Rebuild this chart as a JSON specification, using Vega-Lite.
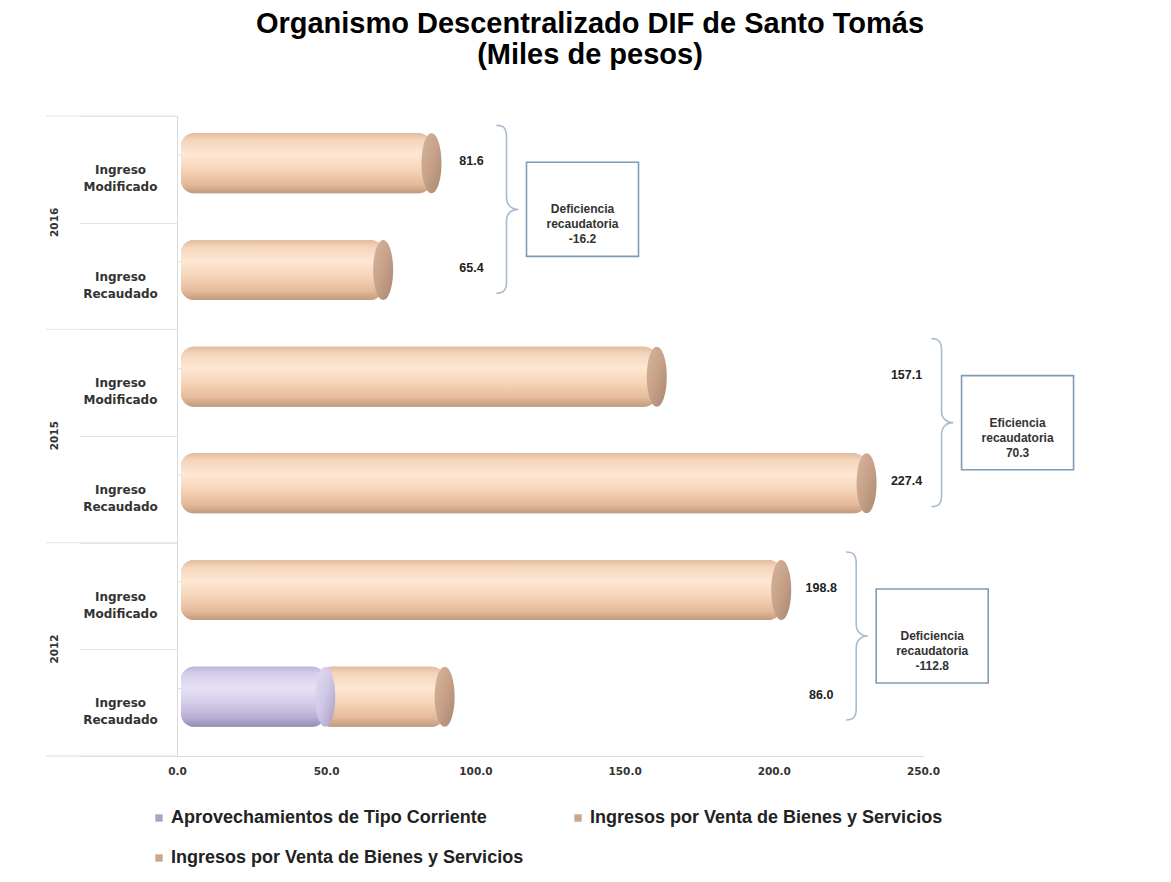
{
  "$schema": "https://vega.github.io/schema/vega-lite/v6.json",
  "width": 746,
  "height": 640,
  "padding": {"left": 45, "top": 10, "right": 5, "bottom": 5},
  "background": "white",
  "title": {
    "text": ["Organismo Descentralizado DIF de Santo Tomás", "(Miles de pesos)"],
    "font": "Liberation Sans",
    "fontSize": 29,
    "fontWeight": "bold",
    "color": "#000000",
    "lineHeight": 31,
    "anchor": "middle",
    "dx": 40,
    "offset": 40
  },
  "config": {
    "view": {"stroke": null},
    "legend": {"layout": {"bottom": {"anchor": "start"}}}
  },
  "datasets": {
    "barras": [
      {"year": "2016", "tipo": "Ingreso Modificado", "fila": "2016|Ingreso Modificado", "serie": "Ingresos por Venta de Bienes y Servicios", "valor": 81.6},
      {"year": "2016", "tipo": "Ingreso Recaudado", "fila": "2016|Ingreso Recaudado", "serie": "Ingresos por Venta de Bienes y Servicios ", "valor": 65.4},
      {"year": "2015", "tipo": "Ingreso Modificado", "fila": "2015|Ingreso Modificado", "serie": "Ingresos por Venta de Bienes y Servicios", "valor": 157.1},
      {"year": "2015", "tipo": "Ingreso Recaudado", "fila": "2015|Ingreso Recaudado", "serie": "Ingresos por Venta de Bienes y Servicios ", "valor": 227.4},
      {"year": "2012", "tipo": "Ingreso Modificado", "fila": "2012|Ingreso Modificado", "serie": "Ingresos por Venta de Bienes y Servicios", "valor": 198.8},
      {"year": "2012", "tipo": "Ingreso Recaudado", "fila": "2012|Ingreso Recaudado", "serie": "Aprovechamientos de Tipo Corriente", "valor": 46.0},
      {"year": "2012", "tipo": "Ingreso Recaudado", "fila": "2012|Ingreso Recaudado", "serie": "Ingresos por Venta de Bienes y Servicios ", "valor": 40.0}
    ],
    "notas": [
      {"year": "2016", "texto": ["Deficiencia", "recaudatoria", "-16.2"]},
      {"year": "2015", "texto": ["Eficiencia", "recaudatoria", "70.3"]},
      {"year": "2012", "texto": ["Deficiencia", "recaudatoria", "-112.8"]}
    ]
  },
  "data": {"name": "barras"},
  "transform": [
    {"stack": "valor", "groupby": ["fila"], "sort": [{"field": "serie", "order": "ascending"}], "as": ["x0", "x1"]}
  ],
  "encoding": {
    "y": {
      "field": "fila",
      "type": "nominal",
      "sort": ["2016|Ingreso Modificado", "2016|Ingreso Recaudado", "2015|Ingreso Modificado", "2015|Ingreso Recaudado", "2012|Ingreso Modificado", "2012|Ingreso Recaudado"],
      "scale": {"padding": 0},
      "axis": {
        "title": null,
        "labelExpr": "isString(datum.value) ? split(split(datum.value, '|')[1], ' ') : ''",
        "labelFont": "DejaVu Sans",
        "labelFontWeight": "bold",
        "labelFontSize": 12,
        "labelColor": "#333333",
        "labelAlign": "center",
        "labelBaseline": "middle",
        "labelLineHeight": 17,
        "labelPadding": -41,
        "tickBand": "extent",
        "tickSize": 98,
        "tickColor": "#e4e4e4",
        "domainColor": "#d9d9d9"
      }
    }
  },
  "layer": [
    {
      "mark": {"type": "rule", "color": "#e2e2e2", "xOffset": 25, "yOffset": -14},
      "encoding": {"x": {"datum": 0, "type": "quantitative", "scale": {"domain": [0, 250]}}}
    },
    {
      "mark": {"type": "bar", "height": 60, "xOffset": 4, "x2Offset": 11, "yOffset": -6, "cornerRadius": 13},
      "encoding": {
        "x": {"field": "x0", "type": "quantitative", "scale": {"domain": [0, 250]},
          "axis": {"title": null, "values": [0, 50, 100, 150, 200, 250], "format": ".1f", "ticks": false, "grid": false,
            "labelFlush": false,
            "labelFont": "DejaVu Sans", "labelFontWeight": "bold", "labelFontSize": 10.5, "labelColor": "#333333",
            "labelPadding": 10, "domainColor": "#d9d9d9"}},
        "x2": {"field": "x1"},
        "color": {
          "field": "serie",
          "type": "nominal",
          "scale": {
            "domain": ["Aprovechamientos de Tipo Corriente", "Ingresos por Venta de Bienes y Servicios", "Ingresos por Venta de Bienes y Servicios "],
            "range": ["#aaa3c4", "#c9a98e", "#c9a98e"]
          },
          "legend": {
            "title": null,
            "orient": "bottom",
            "direction": "horizontal",
            "columns": 2,
            "columnPadding": 50,
            "rowPadding": 22,
            "offset": 32,
            "symbolType": "square",
            "symbolSize": 55,
            "symbolOffset": -27,
            "labelFont": "Liberation Sans",
            "labelFontWeight": "bold",
            "labelFontSize": 18,
            "labelColor": "#222222",
            "labelOffset": 3,
            "labelLimit": 0
          }
        }
      }
    },
    {
      "transform": [{"filter": "datum.serie !== 'Aprovechamientos de Tipo Corriente'"}],
      "mark": {"type": "bar", "height": 60, "xOffset": 4, "x2Offset": 11, "yOffset": -6, "cornerRadius": 13,
        "fill": {"gradient": "linear", "x1": 0, "y1": 0, "x2": 0, "y2": 1, "stops": [
          {"offset": 0, "color": "#e2bd9f"},
          {"offset": 0.12, "color": "#f5d5bb"},
          {"offset": 0.35, "color": "#fde7d4"},
          {"offset": 0.6, "color": "#f7d5b9"},
          {"offset": 0.85, "color": "#e4ba9a"},
          {"offset": 1, "color": "#c49a7e"}
        ]}},
      "encoding": {
        "x": {"field": "x0", "type": "quantitative", "scale": {"domain": [0, 250]}},
        "x2": {"field": "x1"}
      }
    },
    {
      "transform": [{"filter": "datum.serie === 'Aprovechamientos de Tipo Corriente'"}],
      "mark": {"type": "bar", "height": 60, "xOffset": 4, "x2Offset": 11, "yOffset": -6, "cornerRadius": 13,
        "fill": {"gradient": "linear", "x1": 0, "y1": 0, "x2": 0, "y2": 1, "stops": [
          {"offset": 0, "color": "#bdb4d8"},
          {"offset": 0.12, "color": "#d6cfec"},
          {"offset": 0.35, "color": "#e6e1f5"},
          {"offset": 0.6, "color": "#d5cdea"},
          {"offset": 0.85, "color": "#b9aed5"},
          {"offset": 1, "color": "#978cb6"}
        ]}},
      "encoding": {
        "x": {"field": "x0", "type": "quantitative", "scale": {"domain": [0, 250]}},
        "x2": {"field": "x1"}
      }
    },
    {
      "transform": [{"filter": "datum.serie !== 'Aprovechamientos de Tipo Corriente'"}],
      "mark": {"type": "point", "filled": true, "opacity": 1, "size": 3600, "xOffset": 11, "yOffset": -6,
        "shape": "M 0 -1 C 0.184 -1 0.333 -0.552 0.333 0 C 0.333 0.552 0.184 1 0 1 C -0.184 1 -0.333 0.552 -0.333 0 C -0.333 -0.552 -0.184 -1 0 -1 Z",
        "fill": {"gradient": "linear", "x1": 0, "y1": 0, "x2": 1, "y2": 1, "stops": [
          {"offset": 0, "color": "#d6b49b"},
          {"offset": 0.5, "color": "#c6a188"},
          {"offset": 1, "color": "#a9866f"}
        ]}},
      "encoding": {
        "x": {"field": "x1", "type": "quantitative", "scale": {"domain": [0, 250]}}
      }
    },
    {
      "transform": [{"filter": "datum.serie === 'Aprovechamientos de Tipo Corriente'"}],
      "mark": {"type": "point", "filled": true, "opacity": 1, "size": 3600, "xOffset": 11, "yOffset": -6,
        "shape": "M 0 -1 C 0.184 -1 0.333 -0.552 0.333 0 C 0.333 0.552 0.184 1 0 1 C -0.184 1 -0.333 0.552 -0.333 0 C -0.333 -0.552 -0.184 -1 0 -1 Z",
        "fill": {"gradient": "linear", "x1": 0, "y1": 0, "x2": 1, "y2": 1, "stops": [
          {"offset": 0, "color": "#e2dcf2"},
          {"offset": 0.5, "color": "#cfc7e6"},
          {"offset": 1, "color": "#a59ac4"}
        ]}},
      "encoding": {
        "x": {"field": "x1", "type": "quantitative", "scale": {"domain": [0, 250]}}
      }
    },
    {
      "transform": [
        {"aggregate": [{"op": "max", "field": "x1", "as": "total"}], "groupby": ["year", "tipo", "fila"]},
        {"joinaggregate": [{"op": "max", "field": "total", "as": "maxAnio"}], "groupby": ["year"]}
      ],
      "mark": {"type": "text", "font": "Liberation Sans", "fontWeight": "bold", "fontSize": 12.5, "color": "#222222", "dx": 51, "dy": -8, "align": "center", "baseline": "middle"},
      "encoding": {
        "x": {"field": "maxAnio", "type": "quantitative", "scale": {"domain": [0, 250]}},
        "text": {"field": "total", "type": "quantitative", "format": ".1f"}
      }
    },
    {
      "transform": [
        {"aggregate": [{"op": "max", "field": "x1", "as": "total"}], "groupby": ["year", "tipo", "fila"]},
        {"joinaggregate": [{"op": "max", "field": "total", "as": "maxAnio"}], "groupby": ["year"]},
        {"filter": "datum.tipo === 'Ingreso Modificado'"},
        {"lookup": "year", "from": {"data": {"name": "notas"}, "key": "year", "fields": ["texto"]}}
      ],
      "layer": [
        {
          "mark": {"type": "rule", "color": "#e4e4e4", "yOffset": -53.3},
          "encoding": {
            "x": {"datum": -44, "type": "quantitative", "scale": {"domain": [0, 250]}},
            "x2": {"datum": 0}
          }
        },
        {
          "transform": [{"filter": "datum.year === '2012'"}],
          "mark": {"type": "rule", "color": "#dcdcdc", "yOffset": 160},
          "encoding": {
            "x": {"datum": -44, "type": "quantitative", "scale": {"domain": [0, 250]}},
            "x2": {"datum": 0}
          }
        },
        {
          "mark": {"type": "point", "filled": false, "opacity": 1, "size": 28224, "stroke": "#a9bbcf", "strokeWidth": 1.6, "xOffset": 86, "yOffset": 40,
            "shape": "M -0.12 -1 C -0.03 -1 0 -0.96 0 -0.86 L 0 -0.14 C 0 -0.05 0.06 0 0.14 0 C 0.06 0 0 0.05 0 0.14 L 0 0.86 C 0 0.96 -0.03 1 -0.12 1"},
          "encoding": {"x": {"field": "maxAnio", "type": "quantitative", "scale": {"domain": [0, 250]}}}
        },
        {
          "mark": {"type": "point", "filled": false, "opacity": 1, "size": 12544, "stroke": "#7d9db6", "strokeWidth": 1.6, "xOffset": 162, "yOffset": 40,
            "shape": "M -1 -0.84 L 1 -0.84 L 1 0.84 L -1 0.84 Z"},
          "encoding": {"x": {"field": "maxAnio", "type": "quantitative", "scale": {"domain": [0, 250]}}}
        },
        {
          "mark": {"type": "text", "font": "Liberation Sans", "fontWeight": "bold", "fontSize": 12, "color": "#333333", "lineHeight": 15, "align": "center", "baseline": "middle", "xOffset": 162, "yOffset": 40},
          "encoding": {
            "x": {"field": "maxAnio", "type": "quantitative", "scale": {"domain": [0, 250]}},
            "text": {"field": "texto", "type": "nominal"}
          }
        },
        {
          "mark": {"type": "text", "font": "DejaVu Sans", "fontWeight": "bold", "fontSize": 10.5, "color": "#333333", "angle": 270, "align": "center", "baseline": "middle", "xOffset": -122, "yOffset": 53},
          "encoding": {
            "x": {"datum": 0, "type": "quantitative", "scale": {"domain": [0, 250]}},
            "text": {"field": "year", "type": "nominal"}
          }
        }
      ]
    }
  ]
}
